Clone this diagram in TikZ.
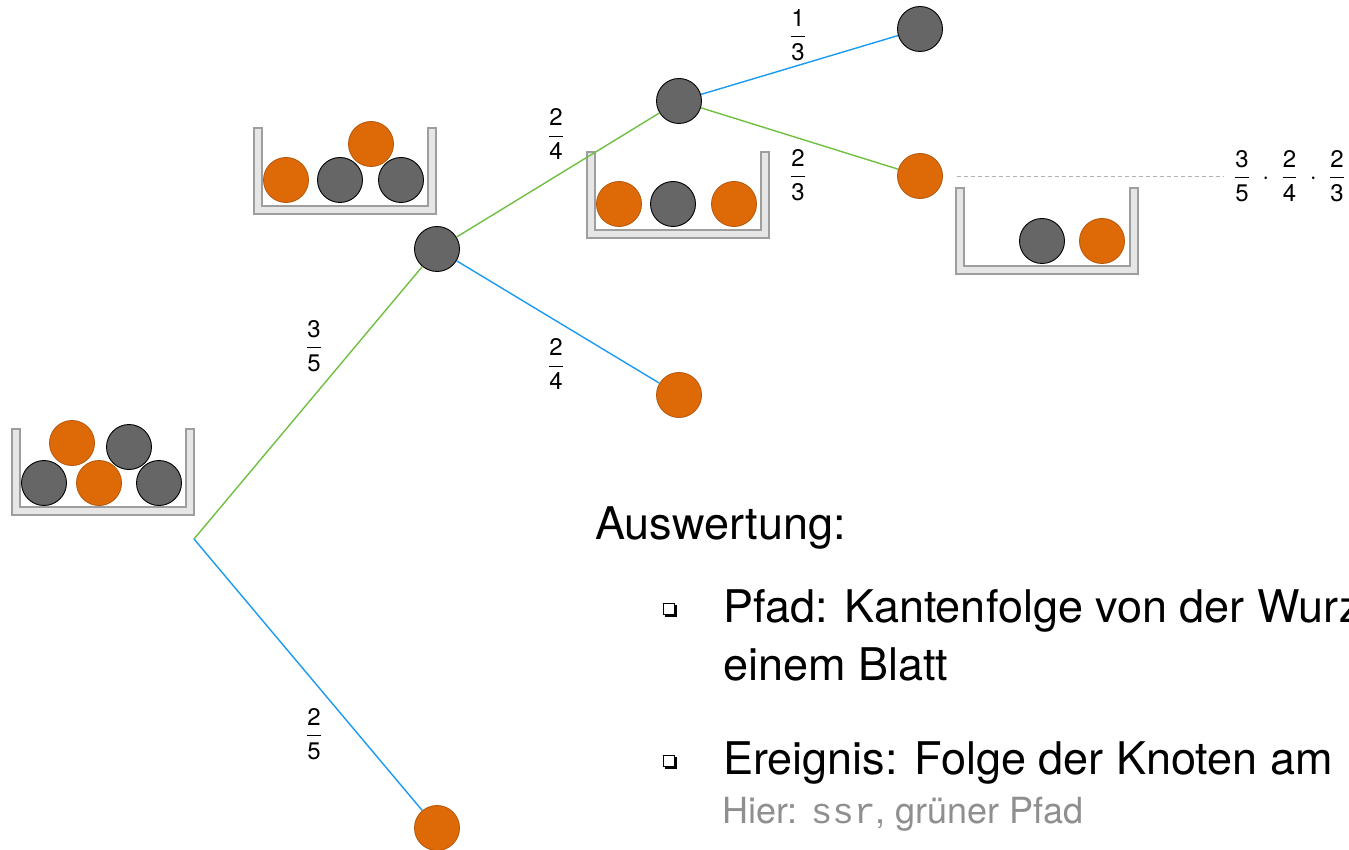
\documentclass[tikz,border=0pt]{standalone}
\usepackage{fontspec}
\setmainfont{TeX Gyre Heros}
\setmonofont{Liberation Mono}
\usepackage{amsmath}
\usetikzlibrary{shadows}

\definecolor{ballgray}{HTML}{666666}
\definecolor{ballorange}{HTML}{DE6A07}
\definecolor{orangeedge}{HTML}{B8590C}
\definecolor{urnfill}{HTML}{E6E6E6}
\definecolor{urnline}{HTML}{9E9E9E}
\definecolor{pathgreen}{HTML}{70BF41}
\definecolor{pathblue}{HTML}{1A9BF0}
\definecolor{textgray}{HTML}{8F8F8F}

\newcommand{\fr}[2]{\displaystyle\frac{\mbox{#1}}{\mbox{#2}}}

\begin{document}
\begin{tikzpicture}[x=1pt, y=-1pt,
    dball/.style={circle, draw=black, fill=ballgray, line width=0.9pt, minimum size=45pt, inner sep=0pt},
    oball/.style={dball, draw=orangeedge, fill=ballorange},
    urnwall/.style={draw=urnline, fill=urnfill, line width=1.2pt},
    greenedge/.style={draw=pathgreen, line width=1.4pt},
    blueedge/.style={draw=pathblue, line width=1.4pt},
    prob/.style={font=\fontsize{24}{28}\selectfont, inner sep=0pt},
    item/.style={anchor=base west, inner sep=0pt, font=\fontsize{45}{52}\selectfont},
    sqbullet/.style={draw=black, fill=white, line width=1pt, minimum size=11.5pt, inner sep=0pt,
        general shadow={fill=black, shadow xshift=2pt, shadow yshift=-2pt}}]
    \useasboundingbox (0,0) rectangle (1349,850);

    % urns
    \foreach \ux/\uy in {12/429, 254/128, 587/152, 956/188}
        \draw[urnwall] (\ux,\uy) -- ++(0,86) -- ++(182,0) -- ++(0,-86) -- ++(-8,0)
            -- ++(0,78) -- ++(-166,0) -- ++(0,-78) -- cycle;

    % balls in the urns
    \foreach \bx/\by/\bs [count=\i] in {72/443/oball, 129/447/dball, 44/483/dball, 99/483/oball,
        159/483/dball, 286/180/oball, 340/180/dball, 401/180/dball, 371/144/oball,
        619/204/oball, 673/204/dball, 734/204/oball, 1042/241/dball, 1102/241/oball}
        \node[\bs] (ball\i) at (\bx,\by) {};

    % tree
    \coordinate (root) at (194,539);
    \node[dball] (s) at (437,249) {};
    \node[oball] (r) at (437,828) {};
    \node[dball] (ss) at (679,101) {};
    \node[oball] (sr) at (679,395) {};
    \node[dball] (sss) at (920,29) {};
    \node[oball] (ssr) at (920,176) {};

    \draw[greenedge] (root) -- (s);
    \draw[blueedge] (root) -- (r);
    \draw[greenedge] (s) -- (ss);
    \draw[blueedge] (s) -- (sr);
    \draw[blueedge] (ss) -- (sss);
    \draw[greenedge] (ss) -- (ssr);

    \node[prob] (p-s) at (314,346) {$\fr{3}{5}$};
    \node[prob] (p-r) at (314,734) {$\fr{2}{5}$};
    \node[prob] (p-ss) at (556,134) {$\fr{2}{4}$};
    \node[prob] (p-sr) at (556,364) {$\fr{2}{4}$};
    \node[prob] (p-sss) at (798,35) {$\fr{1}{3}$};
    \node[prob] (p-ssr) at (798,175) {$\fr{2}{3}$};

    \node[prob, anchor=west] (prod) at (1234,176) {$\fr{3}{5}\;\cdot\;\fr{2}{4}\;\cdot\;\fr{2}{3}$};
    \draw[textgray!70, line width=0.8pt, dash pattern=on 4pt off 3pt] ([xshift=14pt]ssr.east) -- ([xshift=-10pt]prod.west);

    % text
    \node[item] (head) at (595,539) {Auswertung:};
    \node[sqbullet] (b1) at (669,609) {};
    \node[item] (t1) at (723,622) {Pfad: Kantenfolge von der Wurz};
    \node[item] (t1b) at (723,680) {einem Blatt};
    \node[sqbullet] (b2) at (669,761) {};
    \node[item] (t2) at (723,774) {Ereignis: Folge der Knoten am};
    \node[item, font=\fontsize{36}{40}\selectfont, text=textgray] (t3) at (722,823) {Hier: \texttt{ssr}, grüner Pfad};
\end{tikzpicture}
\end{document}
